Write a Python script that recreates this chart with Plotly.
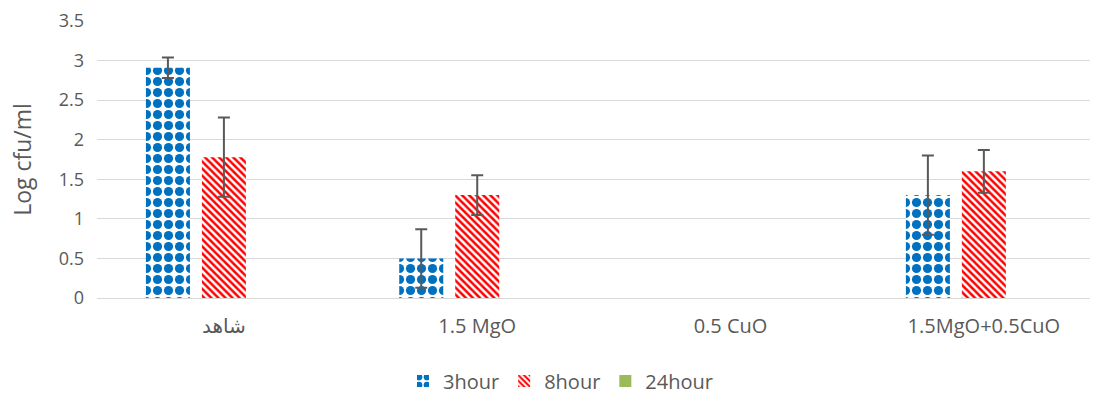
import plotly.graph_objects as go

categories = ["شاهد", "1.5 MgO", "0.5 CuO", "1.5MgO+0.5CuO"]
series_names = ["3hour", "8hour", "24hour"]
# no growth recorded for the CuO samples, so those entries are left empty
values_3h = [2.91, 0.50, None, 1.30]
errors_3h = [0.13, 0.37, None, 0.50]
values_8h = [1.78, 1.30, None, 1.60]
errors_8h = [0.50, 0.25, None, 0.27]
values_24h = [0.0, 0.0, 0.0, 0.0]
y_ticks = [0, 0.5, 1, 1.5, 2, 2.5, 3, 3.5]
y_tick_text = ["0", "0.5", "1", "1.5", "2", "2.5", "3", "3.5"]

font_family = "Open Sans, DejaVu Sans, sans-serif"
text_gray = "#595959"
err_style = dict(type="data", visible=True, color="#595959", thickness=2, width=6)

fig = go.Figure()
fig.add_trace(go.Bar(
    name=series_names[0], x=categories, y=values_3h,
    error_y=dict(array=errors_3h, **err_style),
    marker=dict(color="white", line=dict(width=0),
                pattern=dict(shape=".", fgcolor="#0070C0", bgcolor="white",
                             size=11, solidity=0.55, fillmode="replace")),
))
fig.add_trace(go.Bar(
    name=series_names[1], x=categories, y=values_8h,
    error_y=dict(array=errors_8h, **err_style),
    marker=dict(color="white", line=dict(width=0),
                pattern=dict(shape="\\", fgcolor="#FF0000", bgcolor="white",
                             size=5, solidity=0.5, fillmode="replace")),
))
fig.add_trace(go.Bar(
    name=series_names[2], x=categories, y=values_24h,
    marker=dict(color="#9BBB59", line=dict(width=0)),
))

fig.update_layout(
    width=1099, height=394,
    margin=dict(l=97, r=9, t=21, b=96),
    paper_bgcolor="white", plot_bgcolor="white",
    barmode="group", bargap=0.337, bargroupgap=0.214,
    font=dict(family=font_family, size=18, color=text_gray),
    showlegend=True,
    legend=dict(orientation="h", xref="container", yref="container",
                x=0.51, xanchor="center", y=0.033, yanchor="middle",
                font=dict(size=20, color=text_gray), itemwidth=30,
                traceorder="normal"),
)
fig.update_yaxes(
    range=[0, 3.5], tickvals=y_ticks, ticktext=y_tick_text,
    showgrid=True, gridcolor="#D9D9D9", gridwidth=1,
    zeroline=True, zerolinecolor="#D9D9D9", zerolinewidth=1,
    showline=False, ticks="", ticklabelstandoff=12,
    title=dict(text="Log cfu/ml", font=dict(size=23, color=text_gray), standoff=20),
    tickfont=dict(size=18, color=text_gray),
)
fig.update_xaxes(
    range=[-0.501, 3.419],
    showgrid=False, showline=False, ticks="", ticklabelstandoff=14,
    tickfont=dict(size=20, color=text_gray),
)

fig.write_html("out.html")
